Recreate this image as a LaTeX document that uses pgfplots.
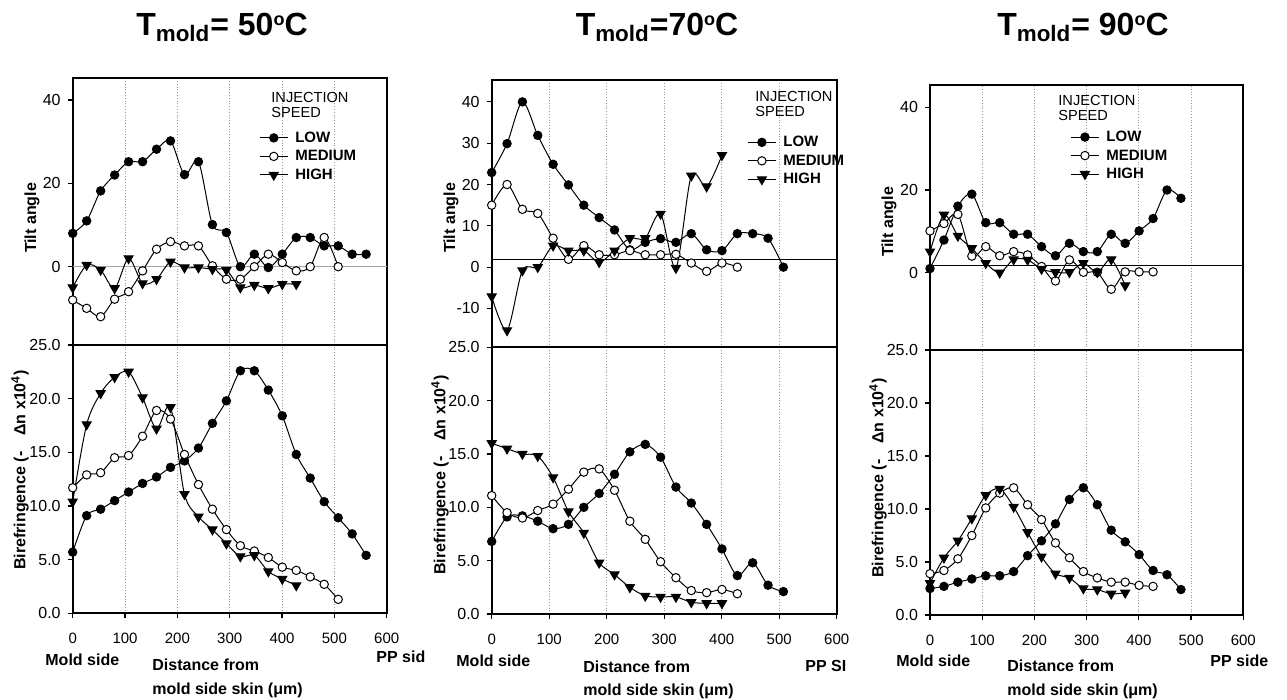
\documentclass[border=0pt]{standalone}
\usepackage{fontspec}
\setmainfont{Liberation Sans}
\usepackage{pgfplots}
\pgfplotsset{compat=1.18}
\usepackage{pgfplotstable}

% tilt angle, T = 50 C
\pgfplotstableread{
x     low   med   high
0     8.0   -8.0  -5.0
26.7  11.0  -10.0 0.4
53.4  18.2  -12.0 -0.8
80.1  22.0  -7.8  -5.2
106.8 25.2  -6.0  2.0
133.5 25.2  -1.0  -4.0
160.2 28.2  4.2   -3.0
186.9 30.2  6.0   1.2
213.6 22.1  5.0   -0.2
240.3 25.2  5.0   -0.2
267.0 10.1  0.2   -0.6
293.7 8.2   -3.0  -0.8
320.4 0.0   -3.0  -5.0
347.1 3.0   0.0   -4.4
373.8 -0.2  3.0   -5.2
400.5 3.0   1.0   -4.2
427.2 7.0   -1.0  -4.2
453.9 7.0   0.0   nan
480.6 5.0   7.0   nan
507.3 5.0   0.0   nan
534.0 3.0   nan   nan
560.7 3.0   nan   nan
}\tiltA
% birefringence, T = 50 C
\pgfplotstableread{
x     low   med   high
0     5.7   11.7  10.4
26.7  9.1   12.9  17.6
53.4  9.7   13.1  20.5
80.1  10.5  14.5  22.0
106.8 11.3  14.7  22.5
133.5 12.1  16.5  20.1
160.2 12.7  18.9  17.2
186.9 13.6  18.1  19.2
213.6 14.2  14.8  11.1
240.3 15.4  12.0  9.0
267.0 17.7  9.7   7.8
293.7 19.8  7.8   6.5
320.4 22.6  6.3   5.3
347.1 22.6  5.8   5.4
373.8 20.8  5.2   3.9
400.5 18.4  4.3   3.2
427.2 14.8  4.0   2.6
453.9 12.6  3.4   nan
480.6 10.4  2.7   nan
507.3 8.9   1.3   nan
534.0 7.4   nan   nan
560.7 5.4   nan   nan
}\birA
% tilt angle, T = 70 C
\pgfplotstableread{
x     low   med   high
0     22.9  15.0  -7.1
26.7  29.9  20.0  -15.3
53.4  40.0  14.0  -0.8
80.1  31.9  13.0  0.0
106.8 24.9  7.0   5.2
133.5 19.9  1.9   4.0
160.2 15.0  5.2   4.0
186.9 12.0  3.0   1.2
213.6 9.0   3.0   4.0
240.3 4.2   4.0   7.0
267.0 6.0   3.0   7.0
293.7 6.9   3.0   12.9
320.4 6.0   3.1   -0.2
347.1 8.1   1.0   22.1
373.8 4.2   -1.0  19.5
400.5 4.0   1.0   27.1
427.2 8.1   0.0   nan
453.9 8.1   nan   nan
480.6 7.0   nan   nan
507.3 0.0   nan   nan
}\tiltB
% birefringence, T = 70 C
\pgfplotstableread{
x     low   med   high
0     6.8   11.1  16.0
26.7  9.1   9.5   15.5
53.4  9.2   9.0   15.0
80.1  8.7   9.7   14.8
106.8 8.0   10.3  12.8
133.5 8.4   11.7  9.6
160.2 10.0  13.3  7.6
186.9 11.3  13.6  4.8
213.6 13.1  11.6  3.7
240.3 15.2  8.7   2.5
267.0 15.9  7.0   1.7
293.7 14.7  4.9   1.6
320.4 11.9  3.4   1.6
347.1 10.4  2.2   1.1
373.8 8.4   2.0   1.0
400.5 6.1   2.3   1.0
427.2 3.6   1.9   nan
453.9 4.8   nan   nan
480.6 2.7   nan   nan
507.3 2.1   nan   nan
}\birB
% tilt angle, T = 90 C
\pgfplotstableread{
x     low   med   high
0     1.0   10.1  5.1
26.7  7.9   11.9  14.0
53.4  16.1  14.1  8.9
80.1  19.0  4.0   5.9
106.8 12.1  6.3   2.3
133.5 12.1  4.1   0.0
160.2 9.3   5.1   3.2
186.9 9.3   4.3   3.1
213.6 6.3   1.5   0.9
240.3 4.1   -2.0  0.1
267.0 7.1   3.1   0.1
293.7 5.1   0.1   2.3
320.4 5.1   0.1   0.1
347.1 9.3   -4.0  3.2
373.8 7.1   0.2   -3.1
400.5 10.1  0.2   nan
427.2 13.1  0.2   nan
453.9 20.0  nan   nan
480.6 18.0  nan   nan
}\tiltC
% birefringence, T = 90 C
\pgfplotstableread{
x     low   med   high
0     2.5   3.9   3.0
26.7  2.7   4.2   5.4
53.4  3.1   5.3   7.0
80.1  3.4   7.5   9.1
106.8 3.7   10.1  11.3
133.5 3.7   11.5  11.9
160.2 4.1   12.0  10.2
186.9 5.6   10.4  7.8
213.6 7.0   9.0   5.5
240.3 8.6   6.8   3.9
267.0 10.9  5.4   3.5
293.7 12.0  4.1   2.5
320.4 10.4  3.5   2.4
347.1 8.0   3.1   2.0
373.8 6.9   3.1   2.1
400.5 5.7   2.8   nan
427.2 4.2   2.7   nan
453.9 3.8   nan   nan
480.6 2.4   nan   nan
}\birC

\pgfplotsset{
  panel/.style={
    scale only axis, anchor=south west, clip=false,
    xmin=0, xmax=600, xtick={0,100,...,600},
    xmajorgrids, major x grid style={densely dotted, gray!80, line width=0.4pt},
    axis line style={line width=1.1pt},
    tick align=outside, ytick pos=left, xtick pos=bottom,
    major tick length=2.5pt, tick style={black, line width=0.6pt},
    xticklabel style={font=\fontsize{7.5}{8}\selectfont},
    yticklabel style={font=\fontsize{8}{9}\selectfont},
    /pgf/number format/assume math mode=true,
  },
  tilt/.style={panel, xticklabels={}, major x tick style={draw=none},
    legend cell align=left,
    legend style={draw=none, fill=none, inner sep=0pt, row sep=0.75pt,
      anchor=north west,
      /tikz/every odd column/.append style={column sep=3pt},
      nodes={inner sep=0.5pt, text height=6pt, text depth=1.5pt,
        font=\fontsize{7.5}{8}\selectfont\bfseries}},
    legend image code/.code={\draw[mark repeat=2,mark phase=2]
      plot coordinates {(0pt,0pt) (7pt,0pt) (14pt,0pt)};},
  },
  biref/.style={panel, ymin=0, ymax=25, ytick={0,5,...,25},
    yticklabel style={/pgf/number format/fixed,
      /pgf/number format/fixed zerofill, /pgf/number format/precision=1},
    xticklabel style={yshift=-4pt},
  },
  low/.style={black, line width=0.5pt, smooth, mark=*, mark size=2.1pt,
    mark options={solid, fill=black}},
  med/.style={black, line width=0.5pt, smooth, mark=*, mark size=2.1pt,
    mark options={solid, fill=white}},
  high/.style={black, line width=0.5pt, smooth, mark=triangle*, mark size=2.6pt,
    mark options={solid, fill=black, rotate=180}},
}

\newcommand{\series}[1]{%
  \addplot[low]  table[x=x, y=low]  {#1}; \addlegendentry{LOW}
  \addplot[med]  table[x=x, y=med]  {#1}; \addlegendentry{MEDIUM}
  \addplot[high] table[x=x, y=high] {#1}; \addlegendentry{HIGH}
}
\newcommand{\seriesnl}[1]{%
  \addplot[low]  table[x=x, y=low]  {#1};
  \addplot[med]  table[x=x, y=med]  {#1};
  \addplot[high] table[x=x, y=high] {#1};
}
\newcommand{\dego}{\raisebox{0.62ex}{\fontsize{9}{9}\selectfont o}}

\begin{document}
\begin{tikzpicture}
\useasboundingbox (0,0) rectangle (643.5pt,-350pt);

% ---- 50 C ----
\begin{axis}[tilt, at={(36.35pt,-172.5pt)}, width=157pt, height=133.5pt,
    ymin=-18.8, ymax=45.3, ytick={0,20,40}, legend style={at={(0.593,0.809)}}]
  \addplot[gray!70, line width=0.6pt, forget plot] coordinates {(0,0) (600,0)};
  \series{\tiltA}
\end{axis}
\begin{axis}[biref, at={(36.35pt,-306.65pt)}, width=157pt, height=134.15pt]
  \seriesnl{\birA}
\end{axis}

% ---- 70 C ----
\begin{axis}[tilt, at={(245.85pt,-173.65pt)}, width=172.5pt, height=133.65pt,
    ymin=-19.4, ymax=45.3, ytick={-10,0,...,40}, legend style={at={(0.740,0.80)}}]
  \addplot[black, line width=0.6pt, forget plot] coordinates {(0,1.8) (600,1.8)};
  \series{\tiltB}
\end{axis}
\begin{axis}[biref, at={(245.85pt,-307pt)}, width=172.5pt, height=133.35pt]
  \seriesnl{\birB}
\end{axis}

% ---- 90 C ----
\begin{axis}[tilt, at={(465pt,-175pt)}, width=156.65pt, height=132.5pt,
    ymin=-18.7, ymax=45.4, ytick={0,20,40}, legend style={at={(0.447,0.837)}}]
  \addplot[black, line width=0.6pt, forget plot] coordinates {(0,1.8) (600,1.8)};
  \series{\tiltC}
\end{axis}
\begin{axis}[biref, at={(465pt,-307.5pt)}, width=156.65pt, height=132.5pt]
  \seriesnl{\birC}
\end{axis}

\begin{scope}[x=0.5pt, y=-0.5pt]
  % titles
  \tikzset{ttl/.style={anchor=base, inner sep=0pt, font=\fontsize{16}{18}\selectfont\bfseries}}
  \node[ttl] at (222,36)  {T\textsubscript{mold}= 50\dego C};
  \node[ttl] at (657,36)  {T\textsubscript{mold}=70\dego C};
  \node[ttl] at (1083,36) {T\textsubscript{mold}= 90\dego C};

  % legend headings
  \tikzset{head/.style={anchor=north west, align=left, inner sep=0pt,
    font=\fontsize{7.3}{7.5}\selectfont}}
  \node[head] at (271,92)  {INJECTION\\SPEED};
  \node[head] at (755,91)  {INJECTION\\SPEED};
  \node[head] at (1058,95) {INJECTION\\SPEED};

  % y labels
  \tikzset{yl/.style={rotate=90, inner sep=0pt, font=\fontsize{8}{9}\selectfont\bfseries}}
  \node[yl] at (32,218)  {Tilt angle};
  \node[yl] at (451,218) {Tilt angle};
  \node[yl] at (889,222) {Tilt angle};
  \node[yl] at (20,470)  {Birefringence (-\hspace{1em}Δn x10\textsuperscript{4})};
  \node[yl] at (440,475) {Birefringence (-\hspace{1em}Δn x10\textsuperscript{4})};
  \node[yl] at (878,478) {Birefringence (-\hspace{1em}Δn x10\textsuperscript{4})};

  % bottom texts
  \tikzset{bt/.style={anchor=base west, inner sep=0pt, font=\fontsize{8}{9}\selectfont\bfseries}}
  \node[bt] at (45,666)   {Mold side};
  \node[bt] at (152,670)  {Distance from};
  \node[bt] at (152,694)  {mold side skin (μm)};
  \begin{scope}
    \clip (370,640) rectangle (424,680);
    \node[bt] at (376,662) {PP side};
  \end{scope}
  \node[bt] at (456,667)  {Mold side};
  \node[bt] at (583,672)  {Distance from};
  \node[bt] at (583,695)  {mold side skin (μm)};
  \begin{scope}
    \clip (800,640) rectangle (846,680);
    \node[bt] at (805,671) {PP SIDE};
  \end{scope}
  \node[bt] at (896,667)  {Mold side};
  \node[bt] at (1007,671) {Distance from};
  \node[bt] at (1007,695) {mold side skin (μm)};
  \node[bt] at (1210,667) {PP side};
\end{scope}
\end{tikzpicture}
\end{document}
